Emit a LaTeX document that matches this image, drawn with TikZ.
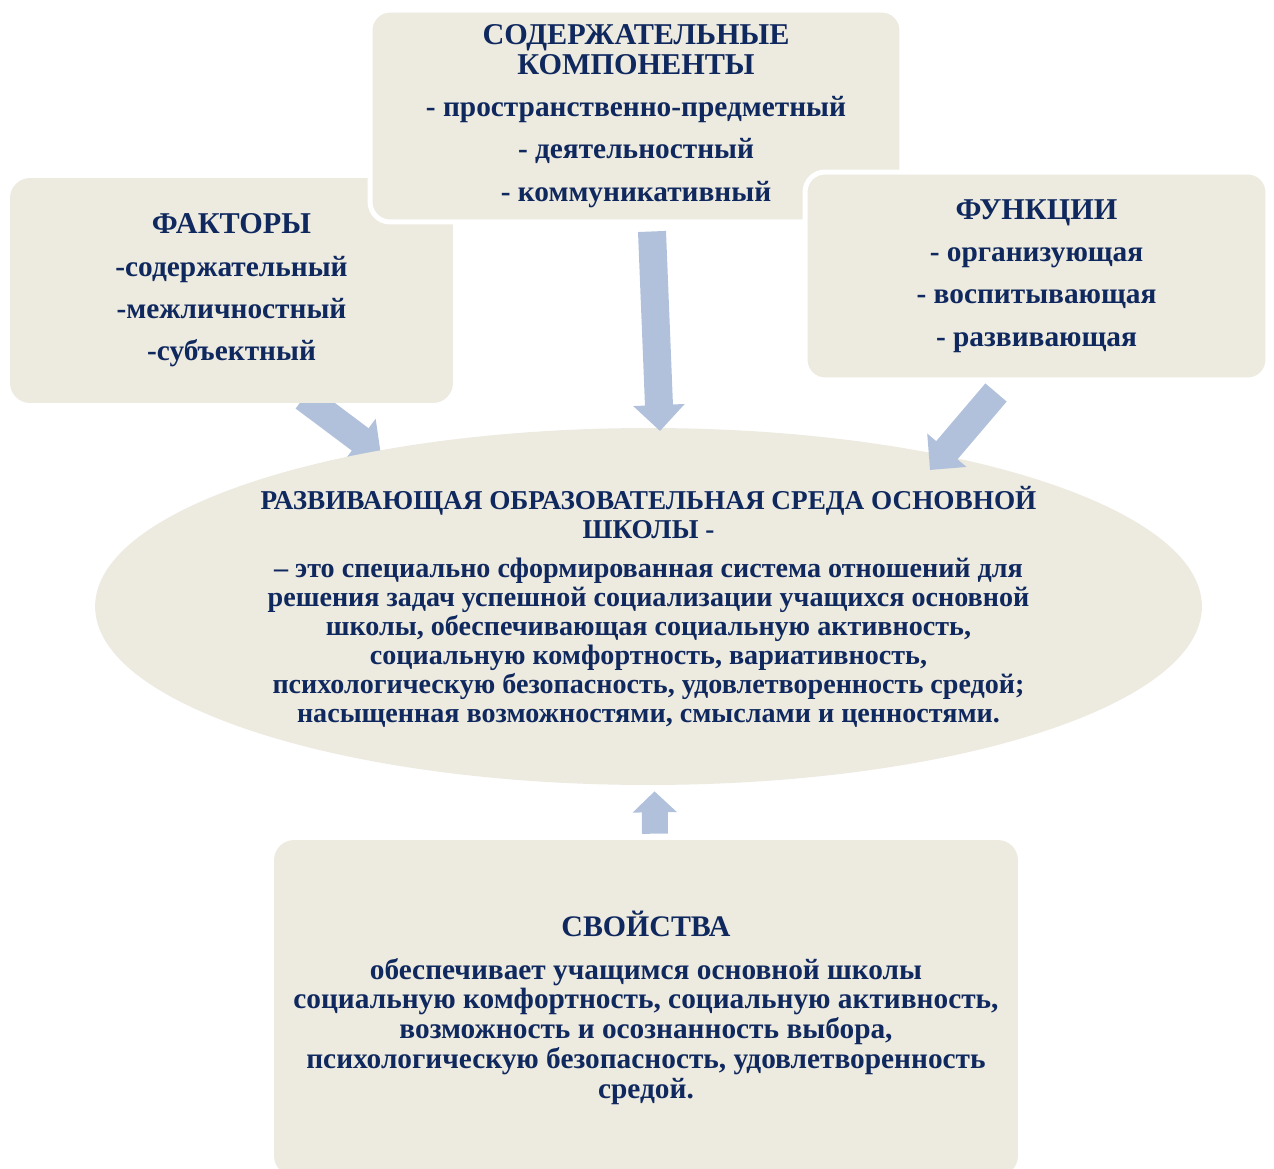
\documentclass[tikz,border=0pt]{standalone}
\usepackage{fontspec}
\setmainfont{Liberation Serif}
\usetikzlibrary{shapes.geometric,arrows.meta,backgrounds}
\definecolor{boxbeige}{RGB}{237,234,224}
\definecolor{arrowblue}{RGB}{177,193,220}
\definecolor{textnavy}{RGB}{15,40,94}
\newcommand{\boxhead}[1]{{\fontsize{17.2}{17}\selectfont #1}}
\tikzset{
  infobox/.style={rectangle, rounded corners=0.4cm, fill=boxbeige, inner sep=0pt,
    align=center, text=textnavy, font=\fontsize{16.7}{17}\selectfont\bfseries},
  ringbox/.style={infobox, draw=white, line width=0.1cm},
  envellipse/.style={ellipse, fill=boxbeige, inner sep=0pt, align=center,
    text=textnavy, font=\fontsize{16}{16.4}\selectfont\bfseries},
  blockarrow/.style={arrowblue, line width=0.56cm, -{Triangle[width=1cm,length=0.52cm]}},
  smallarrow/.style={arrowblue, line width=0.52cm, -{Triangle[width=0.86cm,length=0.42cm]}}
}
\begin{document}
\begin{tikzpicture}[x=0.02cm, y=-0.02cm]
\useasboundingbox (0,0) rectangle (1274,1169);

% boxes
\node[infobox, minimum width=8.86cm, minimum height=4.5cm] (fact) at (231.5,290.5)
  {\boxhead{ФАКТОРЫ}\\[0.25cm]-содержательный\\[0.25cm]-межличностный\\[0.25cm]-субъектный};
\node[ringbox, minimum width=10.64cm, minimum height=4.24cm] (cont) at (636,116)
  {\boxhead{СОДЕРЖАТЕЛЬНЫЕ}\\\boxhead{КОМПОНЕНТЫ}\\[0.25cm]- пространственно-предметный\\[0.25cm]- деятельностный\\[0.25cm]- коммуникативный};
\node[ringbox, minimum width=9.26cm, minimum height=4.16cm] (func) at (1036.5,276)
  {\boxhead{ФУНКЦИИ}\\[0.25cm]- организующая\\[0.25cm]- воспитывающая\\[0.25cm]- развивающая};

\node[envellipse, minimum width=22.14cm, minimum height=7.14cm] (env) at (648.5,606.5)
  {{\fontsize{15.5}{16.4}\selectfont РАЗВИВАЮЩАЯ ОБРАЗОВАТЕЛЬНАЯ СРЕДА ОСНОВНОЙ}\\
   {\fontsize{15.5}{16.4}\selectfont ШКОЛЫ -}\\[0.22cm]
   – это специально сформированная система отношений для\\
   решения задач успешной социализации учащихся основной\\
   школы, обеспечивающая социальную активность,\\
   социальную комфортность, вариативность,\\
   психологическую безопасность, удовлетворенность средой;\\
   насыщенная возможностями, смыслами и ценностями.};

\node[infobox, minimum width=14.88cm, minimum height=6.72cm] (props) at (646,1008)
  {{\fontsize{17}{17}\selectfont СВОЙСТВА}\\[0.25cm]
   обеспечивает учащимся основной школы\\
   социальную комфортность, социальную активность,\\
   возможность и осознанность выбора,\\
   психологическую безопасность, удовлетворенность\\
   средой.};

% arrows
\begin{pgfonlayer}{background}
\draw[blockarrow] ([shift={(72.5,-6)}]fact.south) -- ([shift={(-267.5,-151.5)}]env.center);
\end{pgfonlayer}
\draw[blockarrow] ([shift={(16,7)}]cont.south) -- ([shift={(11.5,-175.5)}]env.center);
\draw[blockarrow] ([shift={(-40.5,10)}]func.south) -- ([shift={(281.5,-136.5)}]env.center);
\draw[smallarrow] ([shift={(9,-6)}]props.north) -- ([shift={(6,6)}]env.south);
\end{tikzpicture}
\end{document}
